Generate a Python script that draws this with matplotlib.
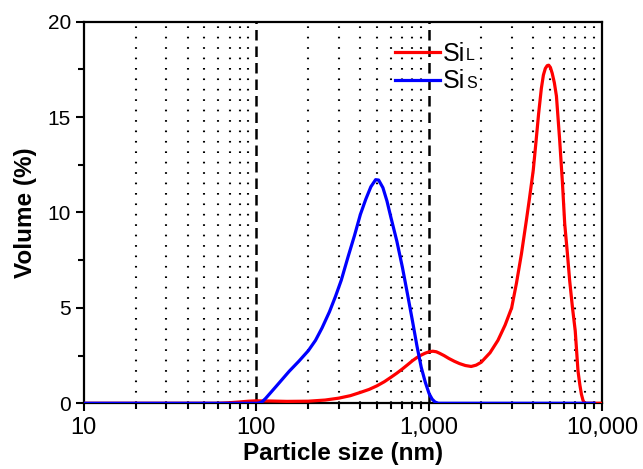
import matplotlib
matplotlib.use("Agg")
import matplotlib.pyplot as plt
from matplotlib.ticker import FixedLocator, FixedFormatter, MultipleLocator

plt.rcParams['font.family'] = ['Liberation Sans', 'DejaVu Sans']

# Particle size (nm) and volume (%)
red_size = [10, 40, 60, 70, 80, 90, 100, 120, 150, 200, 250, 300, 350, 400, 450, 500,
            550, 600, 650, 700, 750, 800, 850, 900, 950, 1000, 1050, 1100, 1150, 1220,
            1300, 1400, 1500, 1620, 1750, 1870, 2000, 2250, 2500, 2750, 3000, 3200,
            3420, 3650, 3800, 4000, 4150, 4300, 4457, 4580, 4700, 4820, 4920, 5030,
            5150, 5300, 5450, 5690, 5900, 6085, 6300, 6500, 6750, 7000, 7262, 7450,
            7600, 7750, 7900, 10000]
red_vol = [0, 0, 0, 0.03, 0.07, 0.11, 0.13, 0.12, 0.10, 0.11, 0.17, 0.27, 0.40, 0.57,
           0.73, 0.92, 1.13, 1.36, 1.58, 1.80, 2.02, 2.23, 2.40, 2.53, 2.63, 2.70, 2.73,
           2.70, 2.62, 2.50, 2.35, 2.20, 2.08, 1.98, 1.93, 2.00, 2.15, 2.65, 3.30, 4.10,
           5.00, 6.30, 7.84, 9.58, 10.70, 12.20, 13.70, 15.20, 16.50, 17.20, 17.55,
           17.70, 17.72, 17.60, 17.30, 16.80, 16.10, 13.79, 11.60, 9.41, 7.90, 6.43,
           5.00, 3.80, 1.70, 0.95, 0.48, 0.18, 0, 0]

blue_size = [10, 100, 104, 108, 113, 120, 130, 141, 155, 176, 200, 220, 240, 265, 287,
             310, 340, 370, 400, 430, 460, 490, 510, 540, 570, 600, 650, 700, 750, 800,
             850, 900, 950, 1000, 1040, 1080, 1130, 9000]
blue_vol = [0, 0, 0.02, 0.08, 0.25, 0.52, 0.88, 1.25, 1.68, 2.20, 2.76, 3.30, 3.95,
            4.80, 5.60, 6.45, 7.70, 8.80, 9.90, 10.70, 11.35, 11.72, 11.70, 11.30, 10.60,
            9.76, 8.50, 7.13, 5.70, 4.33, 3.00, 1.88, 1.10, 0.50, 0.22, 0.07, 0, 0]

x_major = [10, 100, 1000, 10000]
x_major_labels = ["10", "100", "1,000", "10,000"]
x_minor = [m * d for d in (10, 100, 1000) for m in range(2, 10)]
dashed_lines = [100, 1000]

fig = plt.figure(figsize=(6.43, 4.69), dpi=100)
W, H = 643, 469
ax = fig.add_axes([83.5 / W, 1 - 403.3 / H, (602 - 83.5) / W, (403.3 - 21.7) / H])

for xv in x_minor:
    ax.axvline(xv, color='black', lw=1.5, linestyle=(0, (0.8, 4.2)), zorder=1)
for xv in dashed_lines:
    ax.axvline(xv, color='black', lw=1.8, linestyle=(0, (4.2, 2.4)), zorder=1)

ax.plot(red_size, red_vol, color='#ff0000', lw=2.3, label='Si', zorder=3,
        solid_joinstyle='round')
ax.plot(blue_size, blue_vol, color='#0000ff', lw=2.3, label='Si', zorder=4,
        solid_joinstyle='round')

ax.set_xscale('log')
ax.set_xlim(10, 10000)
ax.set_ylim(0, 20)
ax.xaxis.set_major_locator(FixedLocator(x_major))
ax.xaxis.set_major_formatter(FixedFormatter(x_major_labels))
ax.xaxis.set_minor_locator(FixedLocator(x_minor))
ax.xaxis.set_minor_formatter(FixedFormatter([""] * len(x_minor)))
ax.yaxis.set_major_locator(MultipleLocator(5))
ax.yaxis.set_minor_locator(MultipleLocator(2.5))

for s in ax.spines.values():
    s.set_linewidth(1.6)
ax.tick_params(axis='both', which='major', direction='out', length=6, width=1.5)
ax.tick_params(axis='both', which='minor', direction='out', length=4, width=1.5)
ax.tick_params(axis='x', which='major', labelsize=17, pad=4)
ax.tick_params(axis='y', which='major', labelsize=15, pad=3)

ax.set_xlabel('Particle size (nm)', fontsize=17.5, fontweight='bold', labelpad=2)
ax.set_ylabel('Volume (%)', fontsize=17.5, fontweight='bold', labelpad=8)

leg = ax.legend(loc='upper left', bbox_to_anchor=(0.601, 0.948), frameon=False,
                fontsize=18, borderpad=0, borderaxespad=0, handlelength=1.8,
                handletextpad=0.12, labelspacing=0.15)
for h in leg.get_lines():
    h.set_linewidth(2.3)

subs = ['L', 'S']
for t, s in zip(leg.get_texts(), subs):
    ax.annotate(s, xy=(1, 0), xycoords=t, xytext=(0.5, 1.8), textcoords='offset points',
                ha='left', va='bottom', fontsize=11.5, zorder=6)

fig.savefig('out.png', dpi=100)
